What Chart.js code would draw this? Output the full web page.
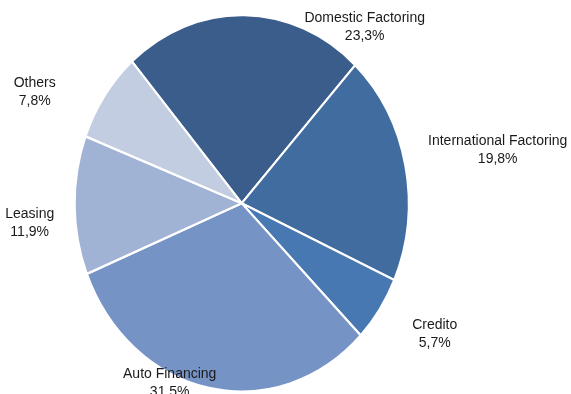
<!DOCTYPE html>
<html>
<head>
<meta charset="utf-8">
<script src="https://cdn.jsdelivr.net/npm/chart.js@4"></script>
<style>
  html, body { margin: 0; padding: 0; background: #fff; }
  #wrap { width: 571px; height: 394px; position: relative; }
</style>
</head>
<body>
<div id="wrap"><canvas id="pie"></canvas></div>
<script>
const categories = ['Domestic Factoring', 'International Factoring', 'Credito', 'Auto Financing', 'Leasing', 'Others'];
const shares = [23.3, 19.8, 5.7, 31.5, 11.9, 7.8];
const shareLabels = ['23,3%', '19,8%', '5,7%', '31,5%', '11,9%', '7,8%'];
const sliceColors = ['#3A5D8B', '#416CA0', '#4878B2', '#7594C5', '#A1B3D5', '#C2CDE2'];

// label offsets from pie centre (first line), px
const labelOffsets = [[123, -185], [256, -62], [193, 122], [-72, 171], [-212, 11], [-207, -120]];
const squash = 1.127; // pie is drawn taller than wide

const ellipse = {
  id: 'ellipse',
  beforeDatasetsDraw(chart) {
    const a = chart.chartArea;
    const cx = (a.left + a.right) / 2, cy = (a.top + a.bottom) / 2;
    const ctx = chart.ctx;
    ctx.save();
    ctx.translate(cx, cy);
    ctx.scale(1, squash);
    ctx.translate(-cx, -cy);
  },
  afterDatasetsDraw(chart) {
    chart.ctx.restore();
  }
};

const sliceLabels = {
  id: 'sliceLabels',
  afterDraw(chart) {
    const a = chart.chartArea;
    const cx = (a.left + a.right) / 2, cy = (a.top + a.bottom) / 2;
    const ctx = chart.ctx;
    ctx.save();
    ctx.fillStyle = '#1a1a1a';
    ctx.font = '14px "Liberation Sans Narrow", "Liberation Sans", Arial, sans-serif';
    ctx.textAlign = 'center';
    ctx.textBaseline = 'middle';
    categories.forEach((name, i) => {
      const x = cx + labelOffsets[i][0];
      const y = cy + labelOffsets[i][1];
      ctx.fillText(name, x, y);
      ctx.fillText(shareLabels[i], x, y + 18);
    });
    ctx.restore();
  }
};

new Chart(document.getElementById('pie'), {
  type: 'pie',
  data: {
    labels: categories,
    datasets: [{
      data: shares,
      backgroundColor: sliceColors,
      borderColor: '#ffffff',
      borderWidth: 2
    }]
  },
  options: {
    responsive: true,
    maintainAspectRatio: false,
    animation: false,
    rotation: -41.1,
    layout: { padding: { left: 73.7, right: 161.3, top: 35.3, bottom: 22.7 } },
    plugins: {
      legend: { display: false },
      tooltip: { enabled: false }
    }
  },
  plugins: [ellipse, sliceLabels]
});
</script>
</body>
</html>
